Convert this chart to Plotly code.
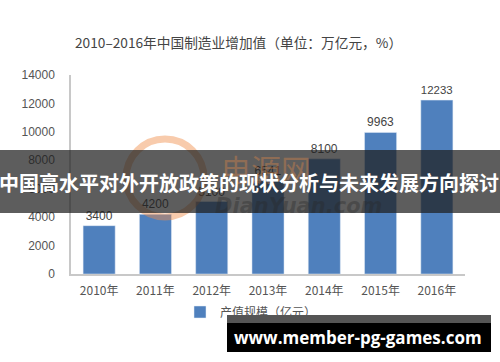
import plotly.graph_objects as go

years = ["2010年", "2011年", "2012年", "2013年", "2014年", "2015年", "2016年"]
values = [3400, 4200, 5100, 6541, 8100, 9963, 12233]
y_ticks = [0, 2000, 4000, 6000, 8000, 10000, 12000, 14000]
y_tick_labels = ["0", "2000", "4000", "6000", "8000", "10000", "12000", "14000"]
series_name = "产值规模（亿元）"
title_text = "2010–2016年中国制造业增加值（单位：万亿元，%）"
banner_text = "中国高水平对外开放政策的现状分析与未来发展方向探讨"
site_text = "www.member-pg-games.com"

FONT = "Noto Sans CJK SC, Noto Sans, sans-serif"
NUMFONT = "Liberation Sans, Arial, sans-serif"

fig = go.Figure()
fig.add_trace(go.Bar(
    x=years, y=values, name=series_name,
    marker=dict(color="#4f80bd"),
    text=[str(v) for v in values], textposition="outside",
    textfont=dict(size=12, color="#444444", family=NUMFONT),
    cliponaxis=False, showlegend=True,
))

L, R, T, B = 71, 35, 75, 88
W, H = 500, 362
pw, ph = W - L - R, H - T - B

def px(x):
    return (x - L) / pw

def py(y):
    return (H - B - y) / ph

shapes = [
    dict(type="circle", xref="paper", yref="paper", layer="above",
         x0=px(126), x1=px(204), y0=py(217), y1=py(139),
         line=dict(color="rgba(240,140,70,0.45)", width=7)),
    dict(type="rect", xref="paper", yref="paper", layer="above",
         x0=px(-2), x1=px(502), y0=py(213), y1=py(150),
         fillcolor="rgba(30,30,30,0.72)", line=dict(width=0)),
    dict(type="rect", xref="paper", yref="paper", layer="above",
         x0=px(227), x1=px(491), y0=py(323), y1=py(315),
         fillcolor="#555555", line=dict(width=0)),
    dict(type="rect", xref="paper", yref="paper", layer="above",
         x0=px(227), x1=px(491), y0=py(352), y1=py(323),
         fillcolor="#000000", line=dict(width=0)),
]

annotations = [
    dict(text="电源网", xref="paper", yref="paper", x=px(266), y=py(168),
         xanchor="center", yanchor="middle",
         showarrow=False, font=dict(size=30, color="rgba(240,140,70,0.35)", family=FONT)),
    dict(text="<b><i>DianYuan.com</i></b>", xref="paper", yref="paper", x=px(298), y=py(206),
         xanchor="center", yanchor="middle",
         showarrow=False, font=dict(size=21, color="rgba(40,40,40,0.35)", family="DejaVu Sans")),
    dict(text="<b>" + banner_text + "</b>", xref="paper", yref="paper", x=px(249), y=py(182),
         xanchor="center", yanchor="middle",
         showarrow=False, font=dict(size=20, color="white", family=FONT)),
    dict(text="<b>" + site_text + "</b>", xref="paper", yref="paper", x=px(358), y=py(337),
         xanchor="center", yanchor="middle",
         showarrow=False, font=dict(size=17, color="white", family="Open Sans")),
]

fig.update_layout(
    width=W, height=H,
    margin=dict(l=L, r=R, t=T, b=B),
    paper_bgcolor="white", plot_bgcolor="white",
    font=dict(family=FONT, color="#555555", size=11),
    title=dict(text=title_text, x=75 / W, xanchor="left", xref="container",
               y=1 - 43 / H, yanchor="middle", yref="container",
               font=dict(size=13.7, color="#444444", family=FONT)),
    bargap=0.43,
    showlegend=True,
    legend=dict(orientation="h", x=px(180), xanchor="left", y=py(312), yanchor="middle",
                font=dict(size=12, color="#555555", family=FONT), itemwidth=30,
                bgcolor="rgba(0,0,0,0)"),
    xaxis=dict(showline=True, linecolor="#c8c8c8", linewidth=1.5, showgrid=False,
               ticks="", ticklabelstandoff=5, tickfont=dict(size=12, color="#555555")),
    yaxis=dict(range=[0, 14000], tickvals=y_ticks, ticktext=y_tick_labels, showline=True,
               linecolor="#c8c8c8", linewidth=1.5, showgrid=False, zeroline=False, ticks="",
               ticklabelstandoff=12, tickfont=dict(size=12, color="#555555", family=NUMFONT)),
    shapes=shapes,
    annotations=annotations,
)

fig.write_html("out.html")
